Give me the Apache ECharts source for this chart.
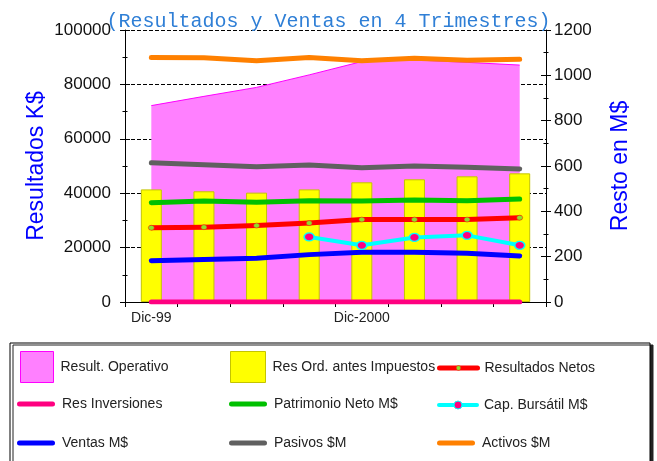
<!DOCTYPE html>
<html>
<head>
<meta charset="utf-8">
<script src="https://cdn.jsdelivr.net/npm/echarts@6/dist/echarts.min.js"></script>
<style>
  html, body { margin: 0; padding: 0; background: #fff; }
  #chart { width: 657px; height: 461px; }
</style>
</head>
<body>
<div id="chart"></div>
<script>
// datos
var trimestres = ['Dic-99', '', '', '', 'Dic-2000', '', '', ''];
var resultOperativo = [72200, 75600, 78900, 83500, 88400, 89000, 88100, 87100];
var resOrdAntesImp = [41400, 40700, 40200, 41400, 44000, 45100, 46200, 47300];
var resultadosNetos = [27300, 27500, 28100, 29000, 30300, 30300, 30300, 31000];
var resInversiones = [0, 0, 0, 0, 0, 0, 0, 0];
var patrimonioNeto = [438, 446, 440, 447, 446, 450, 447, 454];
var capBursatil = [null, null, null, 287, 250, 285, 294, 250];
var ventas = [182, 188, 193, 209, 219, 219, 215, 203];
var pasivos = [614, 606, 597, 604, 592, 600, 594, 587];
var activos = [1079, 1078, 1064, 1079, 1064, 1075, 1067, 1071];

var sans = "'Liberation Sans', Arial, sans-serif";
var barra = 'path://M2.5,0 L35.5,0 A2.5,2.5 0 0 1 35.5,5 L2.5,5 A2.5,2.5 0 0 1 2.5,0 Z';

var chart = echarts.init(document.getElementById('chart'), null, { renderer: 'canvas' });

function linea(name, data, color, axis) {
  return {
    name: name,
    type: 'line',
    yAxisIndex: axis,
    z: 3,
    data: data,
    symbol: 'none',
    lineStyle: { color: color, width: 5, cap: 'round', join: 'round' },
    itemStyle: { color: color },
    emphasis: { disabled: true }
  };
}

// una leyenda por item para poder colocarlas en tres columnas
function leyenda(item, left, top, w, h) {
  return {
    data: [item],
    left: left,
    top: top,
    padding: 0,
    itemWidth: w,
    itemHeight: h,
    selectedMode: false,
    textStyle: { fontFamily: sans, fontSize: 14, color: '#222', padding: [0, 0, 0, 2] }
  };
}

function simple(name, color) {
  return { name: name, icon: barra, itemStyle: { color: color, borderWidth: 0 } };
}

var yTicksIn = function (pos, max, interval) {
  return {
    type: 'value', position: pos, min: 0, max: max, interval: interval,
    axisLine: { show: false }, axisLabel: { show: false }, splitLine: { show: false },
    axisTick: { show: true, inside: true, length: 5, lineStyle: { color: '#000' } },
    minorTick: { show: true, splitNumber: 2, length: 2.5, lineStyle: { color: '#000' } }
  };
};

var option = {
  backgroundColor: '#fff',
  animation: false,
  title: {
    text: '(Resultados y Ventas en 4 Trimestres)',
    left: 'center',
    top: 7,
    textStyle: { fontFamily: "'Liberation Mono', 'DejaVu Sans Mono', monospace", fontSize: 20, fontWeight: 'normal', color: '#2f7fd6' }
  },
  graphic: [{
    type: 'rect',
    shape: { x: 10, y: 343, width: 640, height: 140 },
    style: { fill: '#fff', stroke: '#000', lineWidth: 1, shadowColor: '#222', shadowOffsetX: 3, shadowOffsetY: 2, shadowBlur: 0 },
    z: -1
  }],
  legend: [
    leyenda({ name: 'Result. Operativo', icon: 'rect', itemStyle: { color: '#ff80ff', borderColor: '#ff00ff', borderWidth: 1 } }, 20, 351, 33, 31),
    leyenda({ name: 'Res Ord. antes Impuestos', icon: 'rect', itemStyle: { color: '#ffff00', borderColor: '#c4c400', borderWidth: 1 } }, 230, 351, 35, 31),
    leyenda({ name: 'Resultados Netos', lineStyle: { color: '#ff0000', width: 5, cap: 'round' }, itemStyle: { color: '#8ee02a', borderColor: '#ff0000', borderWidth: 0.5 } }, 437, 361, 38, 6),
    leyenda(simple('Res Inversiones', '#ff0080'), 17, 397, 38, 5),
    leyenda(simple('Patrimonio Neto M$', '#00c000'), 229, 397, 38, 5),
    leyenda({ name: 'Cap. Bursátil M$', lineStyle: { color: '#00ffff', width: 4, cap: 'round' }, itemStyle: { color: '#ff0080', borderColor: '#00ffff', borderWidth: 1 } }, 437, 398, 38, 10),
    leyenda(simple('Ventas M$', '#0000ff'), 17, 436, 38, 5),
    leyenda(simple('Pasivos $M', '#606060'), 229, 436, 38, 5),
    leyenda(simple('Activos $M', '#ff8000'), 437, 436, 38, 5)
  ],
  grid: { left: 125, right: 111, top: 30, bottom: 159, containLabel: false },
  xAxis: [{
    type: 'category',
    data: trimestres,
    boundaryGap: true,
    axisLine: { lineStyle: { color: '#000', width: 1 } },
    axisTick: { show: true, interval: 0, length: 5, lineStyle: { color: '#000' } },
    axisLabel: { interval: 0, margin: 9, fontFamily: sans, fontSize: 14, color: '#222' },
    splitLine: { show: false }
  }, {
    type: 'category',
    position: 'top',
    data: trimestres,
    axisLine: { lineStyle: { color: '#000', width: 1 } },
    axisTick: { show: false },
    axisLabel: { show: false }
  }],
  yAxis: [{
    type: 'value',
    position: 'left',
    min: 0, max: 100000, interval: 20000,
    name: 'Resultados K$',
    nameLocation: 'middle',
    nameGap: 77,
    nameMoveOverlap: false,
    nameTextStyle: { fontFamily: sans, fontSize: 23, color: '#0000ff' },
    axisLine: { show: true, lineStyle: { color: '#000' } },
    axisTick: { show: true, length: 5, lineStyle: { color: '#000' } },
    minorTick: { show: true, splitNumber: 2, length: 2.5, lineStyle: { color: '#000' } },
    axisLabel: { margin: 14, fontFamily: sans, fontSize: 17, color: '#111', formatter: function (v) { return String(v); } },
    splitLine: { show: true, lineStyle: { color: '#000', type: [4, 2], width: 1 } }
  }, {
    type: 'value',
    position: 'right',
    min: 0, max: 1200, interval: 200,
    name: 'Resto en M$',
    nameLocation: 'middle',
    nameGap: 63,
    nameTextStyle: { fontFamily: sans, fontSize: 23, color: '#0000ff' },
    axisLine: { show: true, lineStyle: { color: '#000' } },
    axisTick: { show: true, length: 5, lineStyle: { color: '#000' } },
    minorTick: { show: true, splitNumber: 2, length: 2.5, lineStyle: { color: '#000' } },
    axisLabel: { margin: 8, fontFamily: sans, fontSize: 17, color: '#111', formatter: function (v) { return String(v); } },
    splitLine: { show: false }
  },
  yTicksIn('left', 100000, 20000),
  yTicksIn('right', 1200, 200)
  ],
  series: [
    {
      name: 'Result. Operativo',
      type: 'line',
      yAxisIndex: 0,
      z: 1,
      data: resultOperativo,
      symbol: 'none',
      lineStyle: { color: '#ff00ff', width: 1 },
      areaStyle: { color: '#ff80ff', opacity: 1 },
      itemStyle: { color: '#ff80ff' },
      emphasis: { disabled: true }
    },
    {
      name: 'Res Ord. antes Impuestos',
      type: 'bar',
      yAxisIndex: 0,
      z: 2,
      data: resOrdAntesImp,
      barWidth: 21,
      itemStyle: { color: '#ffff00', borderColor: '#c4c400', borderWidth: 1 },
      emphasis: { disabled: true }
    },
    (function () {
      var s = linea('Resultados Netos', resultadosNetos, '#ff0000', 0);
      s.symbol = 'circle';
      s.symbolSize = [6, 5];
      s.showSymbol = true;
      s.itemStyle = { color: '#8ee02a', borderColor: '#ff0000', borderWidth: 0.5 };
      return s;
    })(),
    linea('Res Inversiones', resInversiones, '#ff0080', 0),
    linea('Patrimonio Neto M$', patrimonioNeto, '#00c000', 1),
    (function () {
      var s = linea('Cap. Bursátil M$', capBursatil, '#00ffff', 1);
      s.lineStyle.width = 4;
      s.symbol = 'circle';
      s.symbolSize = [10, 8];
      s.showSymbol = true;
      s.itemStyle = { color: '#ff0080', borderColor: '#00ffff', borderWidth: 1.5 };
      return s;
    })(),
    linea('Ventas M$', ventas, '#0000ff', 1),
    linea('Pasivos $M', pasivos, '#606060', 1),
    linea('Activos $M', activos, '#ff8000', 1)
  ]
};

chart.setOption(option);
</script>
</body>
</html>
